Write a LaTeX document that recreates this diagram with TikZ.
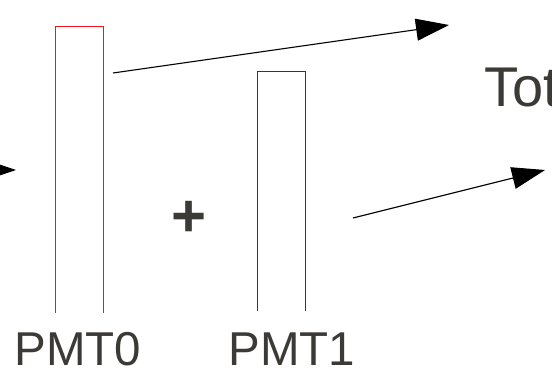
\documentclass[tikz,border=0pt]{standalone}
\usepackage{fontspec}
\setmainfont{Liberation Sans}
\usetikzlibrary{arrows.meta}
\definecolor{txtgray}{RGB}{60,58,55}
\definecolor{pmtred}{RGB}{240,20,30}
\definecolor{pmtblue}{RGB}{30,30,240}
\tikzset{
  x=1pt, y=-1pt,
  sigarrow/.style={draw=black, line width=1.1pt,
    -{Triangle[length=33pt, width=22pt]}},
  tube/.style={line width=1pt},
  label/.style={inner sep=0pt, text=txtgray, font=\fontsize{47.5}{52}\selectfont, anchor=base west},
}
\begin{document}
\begin{tikzpicture}
  \useasboundingbox (0,0) rectangle (552,382);
  \clip (0,0) rectangle (552,382);

  % PMT tubes, open at the bottom
  \draw[tube, pmtred]  (55.5,313) |- (103.5,26.5) -- (103.5,313);
  \draw[tube, pmtblue] (257.5,311) |- (305.5,71.5) -- (305.5,311);

  % labels
  \node[label] (pmt0) at (14.5,366) {PMT0};
  \node[label] (pmt1) at (228.5,366) {PMT1};
  \node[inner sep=0pt, text=txtgray, font=\fontsize{60}{64}\bfseries\selectfont] (plus) at (189.5,219) {+};
  \node[inner sep=0pt, text=txtgray, font=\fontsize{56}{64}\selectfont, anchor=base west] (tot) at (484,107) {Tot};

  % signal arrows
  \coordinate (inL)  at (-40,170);
  \coordinate (tipL) at (16,170);
  \coordinate (outA) at (113,73);
  \coordinate (tipA) at (449,25);
  \coordinate (outB) at (353,218);
  \coordinate (tipB) at (545,170);
  \draw[sigarrow] (inL) -- (tipL);
  \draw[sigarrow] (outA) -- (tipA);
  \draw[sigarrow] (outB) -- (tipB);
\end{tikzpicture}
\end{document}
